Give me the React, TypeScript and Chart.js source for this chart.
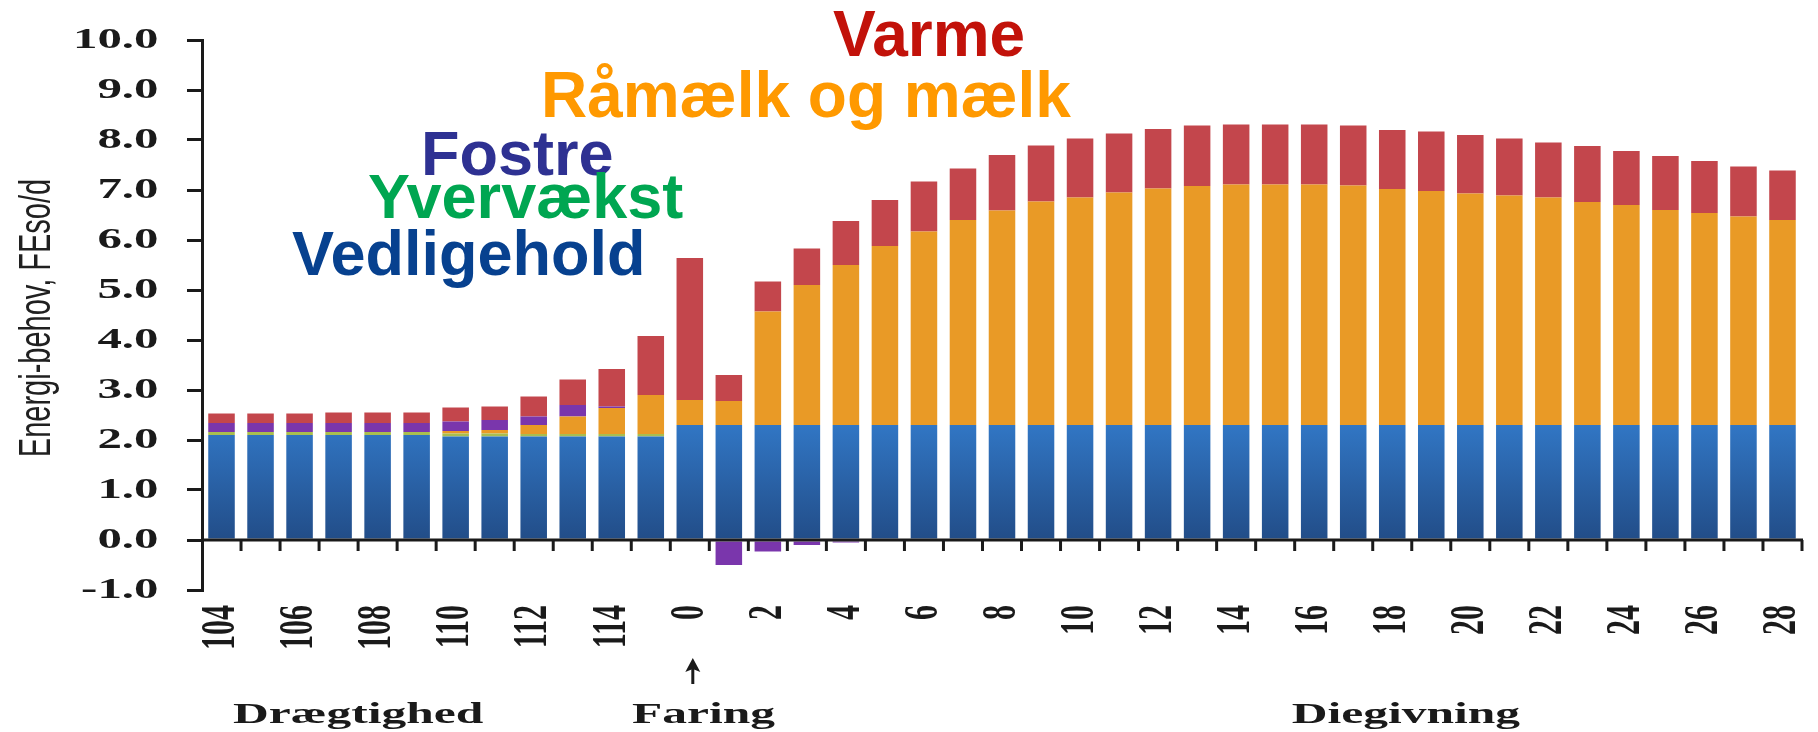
import React, { useEffect, useRef } from 'react';
import { Chart, registerables } from 'chart.js';

Chart.register(...registerables);

// ---- data ----
const categories = [
  '104', '105', '106', '107', '108', '109', '110', '111', '112', '113', '114', '115',
  '0', '1', '2', '3', '4', '5', '6', '7', '8', '9', '10', '11', '12', '13', '14',
  '15', '16', '17', '18', '19', '20', '21', '22', '23', '24', '25', '26', '27', '28',
];

const vedligehold = [
  2.10, 2.10, 2.10, 2.10, 2.10, 2.10, 2.07, 2.07, 2.07, 2.07, 2.07, 2.07,
  2.30, 2.30, 2.30, 2.30, 2.30, 2.30, 2.30, 2.30, 2.30, 2.30, 2.30, 2.30, 2.30, 2.30, 2.30,
  2.30, 2.30, 2.30, 2.30, 2.30, 2.30, 2.30, 2.30, 2.30, 2.30, 2.30, 2.30, 2.30, 2.30,
];

const yvervaekst = [
  0.06, 0.06, 0.06, 0.06, 0.06, 0.06, 0.06, 0.06, 0.05, 0.05, 0.05, 0.05,
  0, 0, 0, 0, 0, 0, 0, 0, 0, 0, 0, 0, 0, 0, 0,
  0, 0, 0, 0, 0, 0, 0, 0, 0, 0, 0, 0, 0, 0,
];

const maelk = [
  0, 0, 0, 0, 0, 0, 0.05, 0.07, 0.18, 0.35, 0.52, 0.78,
  0.50, 0.48, 2.27, 2.80, 3.20, 3.58, 3.87, 4.10, 4.29, 4.47, 4.55, 4.65, 4.73, 4.78, 4.81,
  4.81, 4.81, 4.79, 4.72, 4.68, 4.63, 4.59, 4.55, 4.46, 4.40, 4.30, 4.24, 4.17, 4.10,
];

const fostre = [
  0.18, 0.18, 0.18, 0.18, 0.18, 0.18, 0.19, 0.20, 0.17, 0.23, 0.03, 0,
  0, -0.50, -0.23, -0.10, -0.05, 0, 0, 0, 0, 0, 0, 0, 0, 0, 0,
  0, 0, 0, 0, 0, 0, 0, 0, 0, 0, 0, 0, 0, 0,
];

const varme = [
  0.19, 0.19, 0.19, 0.21, 0.21, 0.21, 0.28, 0.27, 0.40, 0.51, 0.75, 1.18,
  2.84, 0.52, 0.60, 0.73, 0.88, 0.92, 1.00, 1.03, 1.11, 1.12, 1.18, 1.18, 1.19, 1.21, 1.20,
  1.20, 1.20, 1.20, 1.18, 1.19, 1.17, 1.14, 1.10, 1.12, 1.08, 1.08, 1.04, 1.00, 0.99,
];

const yTicks = [-1, 0, 1, 2, 3, 4, 5, 6, 7, 8, 9, 10];
const yTitle = 'Energi-behov, FEso/d';
const phaseLabels = ['Drægtighed', 'Faring', 'Diegivning'];
const legendOrder = ['Varme', 'Råmælk og mælk', 'Fostre', 'Yvervækst', 'Vedligehold'];

// ---- styles ----
const SERIF = '"Liberation Serif", "Times New Roman", serif';
const SANS = '"Liberation Sans", Arial, sans-serif';
const STRETCH = 1.65;
const AXIS = '#1a1a1a';

const legendStyle: Record<string, { color: string; x: number; y: number; size: number }> = {
  'Varme': { color: '#C2120A', x: 833, y: 56, size: 64 },
  'Råmælk og mælk': { color: '#FF9900', x: 541, y: 117, size: 64 },
  'Fostre': { color: '#2E3192', x: 421, y: 175, size: 63 },
  'Yvervækst': { color: '#00A651', x: 368, y: 218, size: 63 },
  'Vedligehold': { color: '#07418F', x: 292, y: 275, size: 63 },
};

function txt(
  ctx: CanvasRenderingContext2D, s: string, x: number, y: number,
  sx: number, rot: number, align: CanvasTextAlign, base: CanvasTextBaseline,
) {
  ctx.save();
  ctx.translate(x, y);
  ctx.scale(sx, 1);
  if (rot) ctx.rotate(rot);
  ctx.textAlign = align;
  ctx.textBaseline = base;
  ctx.fillText(s, 0, 0);
  ctx.restore();
}

const overlayPlugin = {
  id: 'overlay',
  afterDraw(chart: any) {
    const { ctx, chartArea, scales } = chart;
    const x = scales.x;
    const y = scales.y;
    const n = categories.length;
    const step = x.getPixelForValue(1) - x.getPixelForValue(0);
    ctx.save();

    // zero line and category ticks
    const y0 = y.getPixelForValue(0);
    ctx.strokeStyle = AXIS;
    ctx.lineWidth = 3;
    ctx.beginPath();
    ctx.moveTo(chartArea.left, y0);
    ctx.lineTo(chartArea.right + 1, y0);
    ctx.stroke();
    for (let i = 1; i <= n; i++) {
      const xb = x.getPixelForValue(i - 1) + step / 2;
      ctx.beginPath();
      ctx.moveTo(xb, y0);
      ctx.lineTo(xb, y0 + 11);
      ctx.stroke();
    }

    // y tick labels
    ctx.fillStyle = AXIS;
    ctx.font = `bold 30px ${SERIF}`;
    yTicks.forEach((v) => {
      txt(ctx, v.toFixed(1), chartArea.left - 43.5, y.getPixelForValue(v), 1.63, 0, 'right', 'middle');
    });

    // y title
    ctx.font = `29px ${SANS}`;
    ctx.fillStyle = '#202020';
    txt(ctx, yTitle, 50, 318, 1.55, -Math.PI / 2, 'center', 'alphabetic');
    ctx.fillStyle = AXIS;

    // x tick labels (every second category)
    ctx.font = `bold 30px ${SERIF}`;
    categories.forEach((c, i) => {
      if (i % 2 !== 0) return;
      txt(ctx, c, x.getPixelForValue(i), chartArea.bottom + 15, STRETCH, -Math.PI / 2, 'right', 'middle');
    });

    // arrow at farrowing
    const ax = x.getPixelForValue(12) + 3;
    ctx.lineWidth = 3;
    ctx.beginPath();
    ctx.moveTo(ax, 684);
    ctx.lineTo(ax, 668);
    ctx.stroke();
    ctx.beginPath();
    ctx.moveTo(ax, 658);
    ctx.lineTo(ax - 7.5, 672);
    ctx.lineTo(ax, 669);
    ctx.lineTo(ax + 7.5, 672);
    ctx.closePath();
    ctx.fill();

    // phase labels
    ctx.font = `bold 30px ${SERIF}`;
    const phaseX = [
      (x.getPixelForValue(3) + x.getPixelForValue(4)) / 2,
      x.getPixelForValue(12) + 0.35 * step,
      x.getPixelForValue(30) + 0.35 * step,
    ];
    phaseLabels.forEach((p, i) => txt(ctx, p, phaseX[i], 723, STRETCH, 0, 'center', 'alphabetic'));

    // legend overlay
    legendOrder.forEach((l) => {
      const st = legendStyle[l];
      ctx.fillStyle = st.color;
      ctx.font = `bold ${st.size}px ${SANS}`;
      txt(ctx, l, st.x, st.y, 1, 0, 'left', 'alphabetic');
    });

    ctx.restore();
  },
};

function blueGradient(context: any) {
  const chart = context.chart;
  const { ctx, chartArea, scales } = chart;
  if (!chartArea || !scales.y) return '#2C64AA';
  const g = ctx.createLinearGradient(0, scales.y.getPixelForValue(0), 0, scales.y.getPixelForValue(2.3));
  g.addColorStop(0, '#224D88');
  g.addColorStop(1, '#3176C4');
  return g;
}

export default function App() {
  const ref = useRef<HTMLCanvasElement | null>(null);

  useEffect(() => {
    document.body.style.margin = '0';
    const canvas = ref.current;
    if (!canvas) return;
    const common = { categoryPercentage: 1, barPercentage: 0.68, borderWidth: 0 };
    const chart = new Chart(canvas, {
      type: 'bar',
      data: {
        labels: categories,
        datasets: [
          { label: 'Vedligehold', data: vedligehold, backgroundColor: blueGradient, ...common },
          { label: 'Yvervækst', data: yvervaekst, backgroundColor: '#A9BE4E', ...common },
          { label: 'Råmælk og mælk', data: maelk, backgroundColor: '#E99A26', ...common },
          { label: 'Fostre', data: fostre, backgroundColor: '#7A36AC', ...common },
          { label: 'Varme', data: varme, backgroundColor: '#C3464C', ...common },
        ],
      },
      options: {
        responsive: false,
        animation: false,
        devicePixelRatio: 1,
        layout: { padding: { left: 186, right: 16, top: 40, bottom: 142 } },
        plugins: { legend: { display: false }, tooltip: { enabled: false } },
        scales: {
          x: { display: false, stacked: true },
          y: {
            stacked: true,
            min: -1,
            max: 10,
            afterBuildTicks: (s: any) => { s.ticks = yTicks.map((v) => ({ value: v })); },
            afterFit: (s: any) => { s.width = 16; },
            ticks: { display: false },
            grid: { drawOnChartArea: false, drawTicks: true, tickLength: 15, color: AXIS, lineWidth: 3 },
            border: { display: true, color: AXIS, width: 3 },
          },
        },
      },
      plugins: [overlayPlugin],
    });
    return () => chart.destroy();
  }, []);

  return (
    <div style={{ width: 1818, height: 732, position: 'relative', background: '#fff' }}>
      <canvas ref={ref} width={1818} height={732} style={{ display: 'block' }} />
    </div>
  );
}
